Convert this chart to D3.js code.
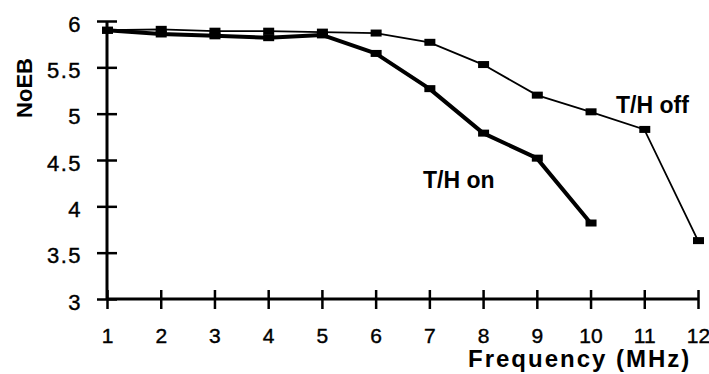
<!DOCTYPE html>
<html>
<head>
<meta charset="utf-8">
<script src="https://cdn.jsdelivr.net/npm/d3@7.9.0/dist/d3.min.js"></script>
<style>
  body { margin: 0; background: #fff; }
  text { font-family: "Liberation Sans", Arial, sans-serif; fill: #000; }
</style>
</head>
<body>
<div id="chart"></div>
<script>
// ------------------- Data -------------------
const freqOff = [1, 2, 3, 4, 5, 6, 7, 8, 9, 10, 11, 12];
const noebOff = [5.9, 5.91, 5.89, 5.89, 5.88, 5.87, 5.77, 5.53, 5.2, 5.02, 4.83, 3.63];
const freqOn = [1, 2, 3, 4, 5, 6, 7, 8, 9, 10];
const noebOn = [5.9, 5.86, 5.84, 5.82, 5.85, 5.65, 5.27, 4.79, 4.52, 3.82];
const xTicks = [1, 2, 3, 4, 5, 6, 7, 8, 9, 10, 11, 12];
const yTicks = [3, 3.5, 4, 4.5, 5, 5.5, 6];

const width = 709, height = 374;

const svg = d3.select('#chart')
  .append('svg')
  .attr('width', width)
  .attr('height', height);

const xScale = d3.scaleLinear().domain([1, 12]).range([107, 698]);
const yScale = d3.scaleLinear().domain([3, 6]).range([299, 21]);

// ------------------- Axes -------------------
const yAxis = svg.append('g')
  .attr('transform', `translate(${xScale(1)},0)`)
  .call(d3.axisLeft(yScale).tickValues(yTicks).tickFormat(d => d).tickSize(10).tickPadding(15));
yAxis.select('.domain').remove();
yAxis.selectAll('.tick line').attr('x1', 10).attr('x2', -10).attr('stroke-width', 2.5);
yAxis.selectAll('.tick text')
  .attr('x', -25)
  .attr('dy', 10)
  .attr('stroke', '#000')
  .attr('stroke-width', 0.4)
  .style('font-size', '22px')
  .style('letter-spacing', '1.5px');

const xAxis = svg.append('g')
  .attr('transform', `translate(0,${yScale(3)})`)
  .call(d3.axisBottom(xScale).tickValues(xTicks).tickFormat(d => d).tickSize(10).tickPadding(30));
xAxis.select('.domain').remove();
xAxis.selectAll('.tick line').attr('y1', -9).attr('y2', 10).attr('stroke-width', 2.5);
xAxis.selectAll('.tick text')
  .attr('y', 44)
  .attr('dy', 0)
  .attr('stroke', '#000')
  .attr('stroke-width', 0.4)
  .style('font-size', '21px');

// axis lines
svg.append('line')
  .attr('x1', xScale(1)).attr('x2', xScale(1))
  .attr('y1', yScale(6)).attr('y2', yScale(3))
  .attr('stroke', '#000').attr('stroke-width', 3);
svg.append('line')
  .attr('x1', xScale(1)).attr('x2', xScale(12))
  .attr('y1', yScale(3)).attr('y2', yScale(3))
  .attr('stroke', '#000').attr('stroke-width', 3);

// ------------------- Series -------------------
const line = d3.line().x(d => xScale(d[0])).y(d => yScale(d[1]));

const offData = freqOff.map((f, i) => [f, noebOff[i]]);
const onData = freqOn.map((f, i) => [f, noebOn[i]]);

svg.append('path')
  .datum(offData)
  .attr('d', line)
  .attr('fill', 'none')
  .attr('stroke', '#000')
  .attr('stroke-width', 1.8);

svg.append('path')
  .datum(onData)
  .attr('d', line)
  .attr('fill', 'none')
  .attr('stroke', '#000')
  .attr('stroke-width', 4)
  .attr('stroke-linejoin', 'round');

[offData, onData].forEach(series => {
  svg.append('g')
    .selectAll('rect')
    .data(series)
    .join('rect')
    .attr('x', d => xScale(d[0]) - 5)
    .attr('y', d => yScale(d[1]) - 3.5)
    .attr('width', 11)
    .attr('height', 7)
    .attr('fill', '#000');
});

// ------------------- Labels -------------------
svg.append('text')
  .attr('x', 423).attr('y', 188)
  .style('font-size', '23px').style('font-weight', 'bold')
  .text('T/H on');

svg.append('text')
  .attr('x', 616).attr('y', 113)
  .style('font-size', '23px').style('font-weight', 'bold')
  .text('T/H off');

svg.append('text')
  .attr('x', 468).attr('y', 367)
  .style('font-size', '24px').style('font-weight', 'bold')
  .style('letter-spacing', '2px')
  .text('Frequency (MHz)');

svg.append('text')
  .attr('transform', 'translate(32,88) rotate(-90)')
  .attr('text-anchor', 'middle')
  .style('font-size', '22px').style('font-weight', 'bold')
  .text('NoEB');
</script>
</body>
</html>
